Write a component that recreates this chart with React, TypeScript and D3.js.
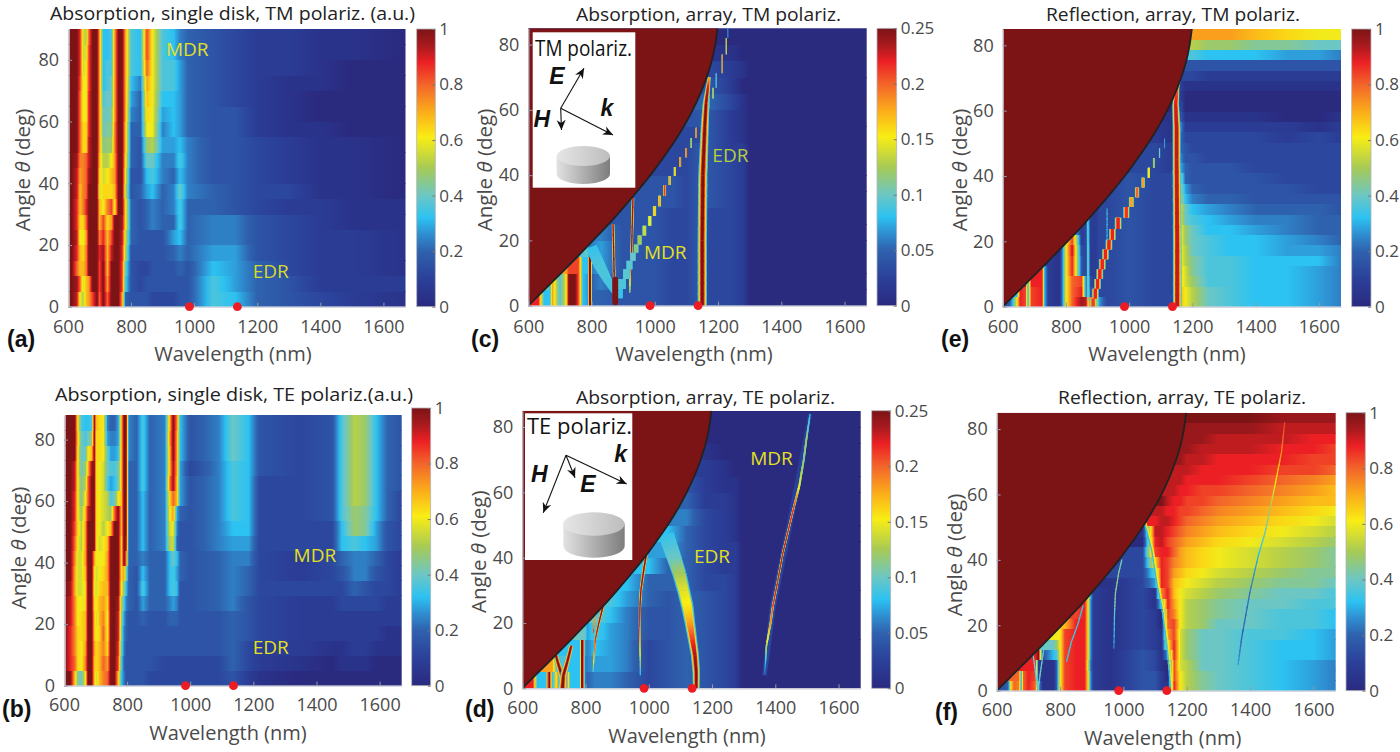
import React, { useEffect, useRef } from 'react';
import * as d3 from 'd3';

// cell values are written one letter per cell, a = 0 ... z = 1 (steps of 0.04),
// rows run from low angle to high angle, spaces are only there to make counting easier
const levelLetters = 'abcdefghijklmnopqrstuvwxyz';

const xTicks = [600, 800, 1000, 1200, 1400, 1600];
const yTicks = [0, 20, 40, 60, 80];
const barTicksFull = ['0', '0.2', '0.4', '0.6', '0.8', '1'];
const barTicksQuarter = ['0', '0.05', '0.1', '0.15', '0.2', '0.25'];
const markerWavelengths = [985, 1137];

// edge of the diffraction cut-off (angle, wavelength)
const cutoffAngles = [0, 5, 10, 15, 20, 25, 30, 35, 40, 45, 50, 55, 60, 65, 70, 75, 80, 85];
const cutoffWavelengths = [600, 652, 704, 755, 805, 854, 900, 944, 986, 1024, 1060, 1092, 1120, 1144, 1164, 1180, 1191, 1198];

const colormapStops = [0, 0.1, 0.2, 0.26, 0.32, 0.4, 0.5, 0.61, 0.7, 0.8, 0.88, 0.94, 1];
const colormapColors = ['#2a2a7f', '#2b409a', '#2f62ae', '#2f8ed0', '#2cc2f1', '#6cc7c4', '#a7ca55', '#f9ed14', '#fbae1a', '#f3642a', '#ec2024', '#a81a1e', '#7c1416'];

// (a) absorption, single disk, TM
const colsA = [600, 612, 628, 638, 648, 658, 666, 678, 692, 700, 712, 725, 738, 748, 760, 772, 782, 800, 830, 850, 868, 900, 935, 955, 980, 1060, 1130, 1200, 1300, 1400, 1500, 1670];
const rowsA = [
  'zzxpn rsvzu zuzzz sfeee dddee jifed cb',
  'zzyuo rszzv zszzz vjede eeeee jhfec cc',
  'zzurr tzzzv zrzzz vkedd eeefe ihfdc cb',
  'zzwrq tzzzw yrxzz wneee eefgf hhedc cb',
  'zzxpp szzzt wrvzz xofee eehif ggedc cb',
  'zzwqq uzzzr vqszz yqfef gffjf ggedc bb',
  'zzwrt wzzzr ptvpz zqfef gfgjf fedcc bb',
  'zzxrt uzzzo qqqrz zoefh ifgkg feddb ba',
  'zzxst uyzzq oprsz zpeei jgfig eedcb ba',
  'zzytt uxzzr nnpsz zqfek kggjg eedcb ba',
  'zzzuq qxzzs lmmtz zrfem nhhig eedcb ba',
  'zzzuq qwzzs klltz zrffp pgihf eecbb aa',
  'zzzup pwzzs kklsz zsgfq phihf eecba aa',
  'zzzup pwzzs jkksz zshfr piihf edcba aa',
  'zzzvp pvzzs ijksz zsigs pjjhf edcbb aa',
  'zzzwo pvzzs ijjsz zsjiu pjjhf edccb aa',
  'zzzwo ovzzs iijsz zsjiv pjigf edccb ba',
  'zzzwo nuzzs iijsz zsjiv pjigf edccb ba',
];

// (b) absorption, single disk, TE
const colsB = [600, 620, 634, 644, 655, 668, 676, 688, 696, 702, 712, 725, 738, 748, 760, 772, 782, 790, 797, 805, 830, 850, 872, 920, 935, 946, 958, 968, 1000, 1090, 1135, 1185, 1220, 1350, 1450, 1480, 1520, 1555, 1590, 1625, 1670];
const rowsB = [
  'zzrlk pzzro rtuzz rigee eeddd ddddd ecbaa aaaaa a',
  'zwuqp tzzrq ruszz vjfee eeedd ddddd fdcba bbbaa a',
  'zwtqp szzsq rtqzz wkgee eeeee eeeee fdccb bccbb b',
  'zwtqq rzzrp qupzz xlgfe eeeee eeeee fedcc ccccb b',
  'zxtpq rzzro rtpzz xmhfe efeef ffeee fedcc ccccc c',
  'zxtpp qzzqp rsqzz ynjgf ehffg hgeef gedcc ddddc c',
  'zysoo qzzpo qrrzz zpmif ejffi jieef gfddd dfedd c',
  'zzsoo rzzqo pqszz zqslf eiffi jhfef gfdcd egged c',
  'zztoo szzsp ppszz zqzuf fgffi kifef ggdcd fggfd c',
  'zzupn szzzq oprzz zqzyf fifgn ofeeg hhddd ijihe d',
  'zzvqn szzzq pnprz zrzzf fifgo pgeeg iiddd imlhe d',
  'zzwpm rxzzq ponmu zrzzf fifgp shfeg jidde jmlif d',
  'zzwpl puzzq ponjk przzf fifgq urheg jidde jnmif d',
  'zzxpl nuzzq pojhi krzzf fjfgt yrheg jidde jnmif e',
  'zzxpk mryzq pokjj krzzf fjfgr yshdg jiede jnmif e',
  'zzzpk kprzq qpkhh irzzg fjfgr zsieg kiede jnmif e',
  'zzzqk jkmzq qphgg hrzzg fjfgs zsieg kiede jnmif e',
  'zzzpj iijzr qpgff hrzzg fjfgr ztieg kiede jnmif e',
];

// (c) absorption, array, TM
const colsC = [600, 632, 640, 650, 668, 676, 684, 700, 720, 728, 735, 748, 758, 766, 772, 788, 792, 797, 802, 830, 900, 1000, 1060, 1100, 1130, 1180, 1240, 1280, 1300, 1670];
const rowsC = [
  'zwpii spjpz zzvpi hzzff eedde ddcaa',
  'zzzpi spjpz zzvpi hzzfg eedde ddcaa',
  'zzzzz zzzsz zzvpi izzgh eedde ddcaa',
  'zzzzz zzzzz zzzzj kzzgh eedde ddcaa',
  'zzzzz zzzzz zzzzz zzzzg eedde ddcaa',
  'zzzzz zzzzz zzzzz zzzzz eedde ddcaa',
  'zzzzz zzzzz zzzzz zzzzz zeede edcaa',
  'zzzzz zzzzz zzzzz zzzzz zeede edcaa',
  'zzzzz zzzzz zzzzz zzzzz zzdde edcaa',
  'zzzzz zzzzz zzzzz zzzzz zzdde eccaa',
  'zzzzz zzzzz zzzzz zzzzz zzzdd ecbaa',
  'zzzzz zzzzz zzzzz zzzzz zzzze ecbaa',
  'zzzzz zzzzz zzzzz zzzzz zzzzz fdbaa',
  'zzzzz zzzzz zzzzz zzzzz zzzzz ecaaa',
  'zzzzz zzzzz zzzzz zzzzz zzzzz dcbaa',
  'zzzzz zzzzz zzzzz zzzzz zzzzz zbaaa',
  'zzzzz zzzzz zzzzz zzzzz zzzzz zaaaa',
];
const edrC = [[0, 1150, 1, 30], [20, 1150, 1, 30], [40, 1152, 1, 30], [55, 1158, 1, 26], [62, 1162, 1, 22], [67, 1168, 0.9, 14], [70, 1172, 0.7, 10]];
const mdrStairC = [[3.8, 884, 0.33, 30], [6.5, 896, 0.36, 26], [9.9, 910, 0.38, 22], [12.5, 920, 0.38, 20], [15, 931, 0.4, 18], [17.5, 941, 0.45, 16], [20, 952, 0.5, 14], [23, 967, 0.55, 13], [26, 984, 0.6, 12], [29, 999, 0.65, 11], [32, 1015, 0.7, 10], [35.4, 1031, 0.85, 10], [38.5, 1047, 0.7, 8], [41, 1063, 0.65, 7], [44, 1080, 0.75, 7], [47, 1099, 0.8, 6], [49.7, 1115, 0.5, 5], [53, 1131, 0.8, 5]];
const upperStairC = [[62, 1171, 0.45, 4], [65, 1184, 0.55, 4], [68.5, 1194, 0.4, 3], [74, 1213, 0.85, 3], [80, 1226, 0.7, 3], [84, 1231, 0.3, 3]];
const leftArmC = [[4, 872, 0.34, 14], [8, 850, 0.36, 28], [13, 822, 0.36, 38], [18, 800, 0.33, 34]];
const coreC = [[1, 875, 1, 18], [8, 875, 1, 18]];
const lineLeftC = [[3, 873, 1, 9], [25, 868, 1, 9]];
const lineRightC = [[4, 921, 0.5, 3], [10, 922, 0.75, 5], [15, 926, 1, 8], [33, 931, 1, 9]];

// (d) absorption, array, TE
const colsD = [600, 634, 640, 648, 675, 680, 686, 695, 712, 722, 735, 745, 752, 782, 787, 792, 798, 805, 830, 880, 930, 1000, 1060, 1120, 1180, 1240, 1275, 1295, 1670];
const rowsD = [
  'zwpii uziso zqiiz zgfgg fdefe dcaa',
  'zzzzz zzsij jiiiz zgghh gdefe dcaa',
  'zzzzz zzzzi iiiiz zhgih gdefe dcaa',
  'zzzzz zzzzz zzzkz zkhjh geefe dcaa',
  'zzzzz zzzzz zzzzz zzzki geefe dcaa',
  'zzzzz zzzzz zzzzz zzzzj hfefe dcaa',
  'zzzzz zzzzz zzzzz zzzzz ifffd dcaa',
  'zzzzz zzzzz zzzzz zzzzz ziffd ccaa',
  'zzzzz zzzzz zzzzz zzzzz zzhfd ccaa',
  'zzzzz zzzzz zzzzz zzzzz zzifd cbaa',
  'zzzzz zzzzz zzzzz zzzzz zzzgd cbaa',
  'zzzzz zzzzz zzzzz zzzzz zzzfc cbaa',
  'zzzzz zzzzz zzzzz zzzzz zzzec bbaa',
  'zzzzz zzzzz zzzzz zzzzz zzzzc baaa',
  'zzzzz zzzzz zzzzz zzzzz zzzzb aaaa',
  'zzzzz zzzzz zzzzz zzzzz zzzzz aaaa',
  'zzzzz zzzzz zzzzz zzzzz zzzzz aaaa',
];
const edrD = [[0, 1150, 1, 22], [5, 1150, 1, 24], [10, 1146, 0.95, 26], [15, 1138, 0.85, 30], [20, 1130, 0.72, 34], [25, 1122, 0.62, 40], [30, 1110, 0.58, 42], [35, 1097, 0.5, 45], [40, 1080, 0.4, 48], [47, 1055, 0.33, 50]];
const mdrHaloD = [[4, 1366, 0.12, 12], [25, 1392, 0.12, 16], [50, 1445, 0.1, 16], [84, 1510, 0.08, 10]];
const mdrD = [[4, 1366, 0.2, 3], [8, 1369, 0.33, 4], [13, 1372, 0.55, 5], [20, 1385, 0.75, 7], [25, 1392, 0.85, 7], [33, 1408, 0.95, 7], [41, 1423, 0.95, 7], [50, 1445, 0.9, 7], [56, 1460, 0.85, 7], [62, 1476, 0.6, 7], [70, 1490, 0.45, 6], [76, 1498, 0.5, 6], [84, 1510, 0.3, 4]];
const line980D = [[4, 973, 0.3, 3], [8, 973, 0.55, 3], [13, 972, 0.7, 4], [20, 971, 0.9, 6], [25, 972, 1, 8], [30, 975, 1, 9], [35, 982, 1, 11], [41, 992, 1, 11]];
const line850D = [[5, 824, 0.35, 3], [9, 826, 0.7, 4], [15, 831, 0.9, 6], [20, 842, 1, 9], [25, 855, 1, 11], [29, 875, 1, 11]];
const line825D = [[17, 825, 0.9, 4], [23, 829, 0.7, 4]];
const vLeftD = [[0, 727, 1, 28], [4, 725, 1, 22], [8, 712, 1, 18], [11, 704, 1, 16]];
const vRightD = [[0, 727, 1, 28], [4, 730, 1, 22], [8, 742, 1, 18], [13, 755, 1, 16]];

// (e) reflection, array, TM
const colsE = [600, 620, 632, 645, 655, 672, 680, 690, 725, 732, 745, 780, 790, 800, 820, 850, 864, 870, 878, 895, 905, 930, 1000, 1080, 1130, 1142, 1165, 1178, 1200, 1250, 1320, 1400, 1500, 1600, 1670];
const rowsE = [
  'zeipw vivwi cbhpu yxquq hdedd crpnk jiihg',
  'zzziw vivwi cbhpu wfmed ddedd crpnk jiihg',
  'zzzzz xiwwi cbhpu vfmdc ddedd cqomj jiihg',
  'zzzzz zzzwi cbhpw edlcc ddedd cqolj jiihg',
  'zzzzz zzzzz cbhpw edlcc ddedd cpnlj jiiig',
  'zzzzz zzzzz zbhpx ddlcc ddedd cpnkj iihhg',
  'zzzzz zzzzz zzipv cdkcc ddedd cpmkj iihgf',
  'zzzzz zzzzz zzzzk cdkcc ddedd cpmki ihgff',
  'zzzzz zzzzz zzzzz bcjcc ddedd cokji hggff',
  'zzzzz zzzzz zzzzz zzzbc ddedd cokih gfffe',
  'zzzzz zzzzz zzzzz zzzzz cdedd cmigf feeee',
  'zzzzz zzzzz zzzzz zzzzz zdedd clhfe eeedd',
  'zzzzz zzzzz zzzzz zzzzz zdedd dkfee eeddd',
  'zzzzz zzzzz zzzzz zzzzz zzddc chfee edddd',
  'zzzzz zzzzz zzzzz zzzzz zzddc bgeed ddddd',
  'zzzzz zzzzz zzzzz zzzzz zzzdc bfedd ddddd',
  'zzzzz zzzzz zzzzz zzzzz zzzcb afddd ddcdc',
  'zzzzz zzzzz zzzzz zzzzz zzzcb agccc cccbc',
  'zzzzz zzzzz zzzzz zzzzz zzzzb aebbb bbaab',
  'zzzzz zzzzz zzzzz zzzzz zzzzz adaaa aaaaa',
  'zzzzz zzzzz zzzzz zzzzz zzzzz zcaaa aaaaa',
  'zzzzz zzzzz zzzzz zzzzz zzzzz zcbbb bbbbb',
  'zzzzz zzzzz zzzzz zzzzz zzzzz zzddc ccccc',
  'zzzzz zzzzz zzzzz zzzzz zzzzz zzeee eeeee',
  'zzzzz zzzzz zzzzz zzzzz zzzzz zzjji iihhg',
  'zzzzz zzzzz zzzzz zzzzz zzzzz zznnm mllkk',
  'zzzzz zzzzz zzzzz zzzzz zzzzz zzsss srqpp',
];
const edrE = [[0, 1152, 0.92, 28], [20, 1152, 0.92, 28], [45, 1150, 0.92, 26], [55, 1150, 0.92, 26], [62, 1147, 0.9, 22], [67, 1152, 0.8, 14], [70, 1160, 0.6, 8]];
const stairE = [[1, 886, 0.85, 22], [4, 893, 0.88, 22], [7, 900, 0.88, 22], [10, 907, 0.88, 22], [13, 915, 0.88, 22], [16, 925, 0.88, 22], [19, 936, 0.88, 22], [22, 947, 0.88, 22], [25.5, 965, 0.88, 22], [29, 991, 0.86, 20], [32, 1007, 0.72, 16], [35, 1025, 0.8, 14], [38, 1044, 0.72, 11], [41, 1062, 0.62, 8], [44, 1078, 0.5, 6], [47, 1096, 0.42, 4], [50, 1112, 0.3, 3]];
const slitE = [[2, 870, 0.38, 4], [26, 868, 0.36, 4]];
const slit930E = [[20, 930, 0.32, 3], [30, 930, 0.35, 3]];

// (f) reflection, array, TE
const colsF = [600, 622, 636, 645, 655, 670, 678, 684, 700, 722, 732, 745, 780, 790, 800, 815, 850, 878, 888, 896, 905, 960, 1060, 1100, 1120, 1140, 1160, 1180, 1200, 1250, 1300, 1400, 1500, 1600, 1670];
const rowsF = [
  'zefqu tiuwu ibbfp vwwqh cbeec bwpnl kjihg',
  'zzzzz uiuwv dbbfp vwwqh cbeec avpnl kjihg',
  'zzzzz zzzww cbbfp vwwpg cbedb avonk kjihg',
  'zzzzz zzzzw zeijp vwwqh cbedb hwomk kjiih',
  'zzzzz zzzzz zkkmp vwwqh cbdcb pwomk kjiih',
  'zzzzz zzzzz zzzzp vwwqh cbdcb svomk kjjih',
  'zzzzz zzzzz zzzzz rwwqh cbdca uvpnm kkjji',
  'zzzzz zzzzz zzzzz zvwqh cbdca vtpnm lkjji',
  'zzzzz zzzzz zzzzz zzwqh cbdbj wspnm lkkjj',
  'zzzzz zzzzz zzzzz zzzsi cbdbt wrpon mlkkj',
  'zzzzz zzzzz zzzzz zzzzz zbdhw vrqpo nmllk',
  'zzzzz zzzzz zzzzz zzzzz zzdkw vsrqp onmll',
  'zzzzz zzzzz zzzzz zzzzz zzdqw vtsrq ponml',
  'zzzzz zzzzz zzzzz zzzzz zzdvw wusrq ponml',
  'zzzzz zzzzz zzzzz zzzzz zzawx vutsr qponm',
  'zzzzz zzzzz zzzzz zzzzz zzbxx wvuts rqpon',
  'zzzzz zzzzz zzzzz zzzzz zzzwx xwvut srqpo',
  'zzzzz zzzzz zzzzz zzzzz zzzzx wwvvu tsrqp',
  'zzzzz zzzzz zzzzz zzzzz zzzzz xwwvv utsrr',
  'zzzzz zzzzz zzzzz zzzzz zzzzz xxwwv vutsr',
  'zzzzz zzzzz zzzzz zzzzz zzzzz zxxww wvuts',
  'zzzzz zzzzz zzzzz zzzzz zzzzz zzxxw wwvvu',
  'zzzzz zzzzz zzzzz zzzzz zzzzz zzyxx wwwvv',
  'zzzzz zzzzz zzzzz zzzzz zzzzz zzyyx xxwwv',
  'zzzzz zzzzz zzzzz zzzzz zzzzz zzzyy xxxww',
  'zzzzz zzzzz zzzzz zzzzz zzzzz zzzyy yyxxx',
  'zzzzz zzzzz zzzzz zzzzz zzzzz zzzzz zzyyy',
];
const edgeCyanF = [[0, 1149, 0.33, 4], [5, 1145, 0.33, 4], [15, 1136, 0.33, 4], [26, 1120, 0.33, 4], [33, 1105, 0.33, 4], [43, 1089, 0.33, 4], [49, 1073, 0.33, 4], [52, 1063, 0.33, 4]];
const edgeYellowF = [[0, 1154, 0.62, 4], [5, 1150, 0.62, 4], [15, 1141, 0.62, 4], [26, 1125, 0.62, 4], [33, 1110, 0.62, 4], [43, 1094, 0.62, 4], [49, 1078, 0.62, 4], [52, 1068, 0.62, 4]];
const mdrF = [[8, 1362, 0.28, 4], [16, 1373, 0.2, 4], [30, 1399, 0.22, 4], [41, 1425, 0.3, 4], [48, 1446, 0.38, 4], [56, 1464, 0.5, 4], [65, 1483, 0.62, 4], [73, 1499, 0.75, 4], [82, 1509, 0.85, 4]];
const slit980F = [[13, 970, 0.28, 3], [24, 972, 0.38, 4], [30, 975, 0.45, 4], [36, 985, 0.45, 4], [40, 995, 0.4, 4]];
const slit850F = [[9, 821, 0.33, 4], [15, 836, 0.35, 4], [20, 855, 0.35, 4], [26, 873, 0.33, 4]];
const vLeftF = [[0, 730, 0.4, 4], [6, 722, 0.4, 4], [13, 712, 0.38, 4]];
const vRightF = [[0, 730, 0.4, 4], [7, 740, 0.4, 4], [15, 752, 0.38, 4]];

const panels = [
  { id: 'a', title: 'Absorption, single disk, TM polariz. (a.u.)', titleX: [50, 415], titleY: 20, x: [68, 405.5], y: [306.7, 29], top: 90, imgFrom: 605, cols: colsA, rows: rowsA, glow: [], stairs: [], dips: [], cutoff: false, barX: [416.7, 435.3], barY: [306.7, 29], barTicks: barTicksFull, xLabel: [233, 361], yLabel: [30, 170], letter: ['(a)', 7, 347], tickY: 333, notes: [['MDR', 978, 83, '#e3e01e'], ['EDR', 1243, 11, '#d5db2a']] },
  { id: 'b', title: 'Absorption, single disk, TE polariz.(a.u.)', titleX: [55, 413], titleY: 401, x: [64, 401.7], y: [685.7, 415], top: 88, imgFrom: 605, cols: colsB, rows: rowsB, glow: [], stairs: [], dips: [], cutoff: false, barX: [411.7, 430.7], barY: [685.7, 408], barTicks: barTicksFull, xLabel: [228, 740], yLabel: [26, 548], letter: ['(b)', 2, 717], tickY: 711.7, notes: [['MDR', 1395, 42, '#e3e01e'], ['EDR', 1255, 12, '#e3e01e']] },
  { id: 'c', title: 'Absorption, array, TM polariz.', titleX: [576, 841], titleY: 21, x: [528.3, 866.7], y: [305.7, 28.3], top: 85, imgFrom: 600, cols: colsC, rows: rowsC, glow: [leftArmC, edrC, lineLeftC, lineRightC], stairs: [mdrStairC, upperStairC], dips: [coreC], cutoff: true, barX: [877, 896.7], barY: [305.7, 28.3], barTicks: barTicksQuarter, xLabel: [694, 361], yLabel: [491.7, 170], letter: ['(c)', 471, 347], tickY: 333, notes: [['MDR', 1033, 16, '#e3e01e'], ['EDR', 1239, 45.6, '#b5cf3a']] },
  { id: 'd', title: 'Absorption, array, TE polariz.', titleX: [576, 835], titleY: 404, x: [522.3, 860.7], y: [688.3, 410.7], top: 85, imgFrom: 600, cols: colsD, rows: rowsD, glow: [edrD, mdrHaloD, mdrD, line980D, line850D, line825D, vLeftD, vRightD], stairs: [], dips: [], cutoff: true, barX: [871.7, 890.7], barY: [688.3, 410.7], barTicks: barTicksQuarter, xLabel: [687, 742.7], yLabel: [486, 551.7], letter: ['(d)', 465, 717], tickY: 714, notes: [['MDR', 1388, 70, '#e3e01e'], ['EDR', 1200, 40, '#e3e01e']] },
  { id: 'e', title: 'Reflection, array, TM polariz.', titleX: [1046, 1300], titleY: 21, x: [1002.7, 1341], y: [306.7, 29], top: 85, imgFrom: 600, cols: colsE, rows: rowsE, glow: [edrE], stairs: [stairE], dips: [slitE, slit930E], cutoff: true, barX: [1351.7, 1371], barY: [306.7, 29], barTicks: barTicksFull, xLabel: [1167, 361], yLabel: [966.7, 170], letter: ['(e)', 941, 347], tickY: 333, notes: [] },
  { id: 'f', title: 'Reflection, array, TE polariz.', titleX: [1058, 1306], titleY: 404, x: [996.7, 1335.7], y: [690.7, 412.7], top: 85, imgFrom: 600, cols: colsF, rows: rowsF, glow: [], stairs: [], dips: [edgeCyanF, edgeYellowF, mdrF, slit980F, slit850F, vLeftF, vRightF], cutoff: true, barX: [1346, 1365.3], barY: [690.7, 412.7], barTicks: barTicksFull, xLabel: [1162.7, 745], yLabel: [961.7, 555], letter: ['(f)', 935, 720], tickY: 716.7, notes: [] },
];

const FONT = '"Open Sans", sans-serif';
const TEXT = '#4a4a4a';

const colormap = d3.scaleLinear<string>().domain(colormapStops).range(colormapColors).clamp(true);
const cutoffAt = d3.scaleLinear().domain(cutoffAngles).range(cutoffWavelengths).clamp(true);
const decodeRow = (row: string) => row.replace(/ /g, '').split('').map(c => levelLetters.indexOf(c) / 25);

function drawArrow(g: any, x1: number, y1: number, x2: number, y2: number) {
  const angle = Math.atan2(y2 - y1, x2 - x1) * 180 / Math.PI;
  g.append('line').attr('x1', x1).attr('y1', y1).attr('x2', x2).attr('y2', y2).attr('stroke', '#111').attr('stroke-width', 1.1);
  g.append('path').attr('d', 'M0,0L-10,-4.5L-7,0L-10,4.5Z').attr('fill', '#111')
    .attr('transform', `translate(${x2},${y2}) rotate(${angle})`);
}

function drawDisk(g: any, cx: number, topY: number, rx: number, ry: number, h: number) {
  g.append('path')
    .attr('d', `M${cx - rx},${topY}V${topY + h}A${rx},${ry} 0 0 0 ${cx + rx},${topY + h}V${topY}Z`)
    .attr('fill', 'url(#diskSide)');
  g.append('ellipse').attr('cx', cx).attr('cy', topY).attr('rx', rx).attr('ry', ry).attr('fill', 'url(#diskTop)');
}

function drawInset(g: any, id: string) {
  const label = (t: string, x: number, y: number) => g.append('text').attr('x', x).attr('y', y)
    .attr('text-anchor', 'middle').attr('dominant-baseline', 'middle')
    .style('font-family', '"Liberation Sans", sans-serif').style('font-size', '23px')
    .style('font-weight', 'bold').style('font-style', 'italic').style('fill', '#111').text(t);
  const heading = (t: string, x: number, y: number, w: number) => g.append('text').attr('x', x).attr('y', y)
    .attr('textLength', w).attr('lengthAdjust', 'spacingAndGlyphs')
    .style('font-family', FONT).style('font-size', '22px').style('fill', '#111').text(t);
  if (id === 'c') {
    g.append('rect').attr('x', 532.7).attr('y', 32.3).attr('width', 102.6).attr('height', 155.4).attr('fill', '#fff');
    heading('TM polariz.', 535, 56, 97);
    drawArrow(g, 560.7, 108.3, 584, 68.3);
    drawArrow(g, 560.7, 108.3, 561.5, 130);
    drawArrow(g, 560.7, 108.3, 613, 135);
    label('E', 557, 78); label('H', 541.7, 121); label('k', 607, 110);
    drawDisk(g, 583.3, 156, 26.7, 10, 18);
  } else {
    g.append('rect').attr('x', 525).attr('y', 413.3).attr('width', 107.3).attr('height', 146.7).attr('fill', '#fff');
    heading('TE polariz.', 527, 434, 105);
    drawArrow(g, 566, 455.3, 626.7, 484);
    drawArrow(g, 566, 455.3, 543.3, 512.7);
    drawArrow(g, 566, 455.3, 575, 477.7);
    label('k', 620.7, 456); label('H', 539.3, 476); label('E', 588, 486);
    drawDisk(g, 594, 524, 30.7, 11.7, 22);
  }
}

export default function App() {
  const svgRef = useRef<SVGSVGElement>(null);

  useEffect(() => {
    if (!svgRef.current) return;
    const svg = d3.select(svgRef.current);
    svg.selectAll('*').remove();
    const defs = svg.append('defs');

    const diskTop = defs.append('linearGradient').attr('id', 'diskTop').attr('x1', 0).attr('x2', 1);
    diskTop.append('stop').attr('offset', 0).attr('stop-color', '#e6e6e6');
    diskTop.append('stop').attr('offset', 1).attr('stop-color', '#bdbdbd');
    const diskSide = defs.append('linearGradient').attr('id', 'diskSide').attr('x1', 0).attr('x2', 1);
    diskSide.append('stop').attr('offset', 0).attr('stop-color', '#e2e2e2');
    diskSide.append('stop').attr('offset', 1).attr('stop-color', '#7d7d7d');

    const barGrad = defs.append('linearGradient').attr('id', 'barGrad').attr('x1', 0).attr('x2', 0).attr('y1', 1).attr('y2', 0);
    colormapStops.forEach((s, i) => barGrad.append('stop').attr('offset', s).attr('stop-color', colormapColors[i]));

    panels.forEach(p => {
      const x = d3.scaleLinear().domain([600, 1670]).range(p.x);
      const y = d3.scaleLinear().domain([0, p.top]).range(p.y);
      const g = svg.append('g');

      defs.append('clipPath').attr('id', `clip-${p.id}`).append('rect')
        .attr('x', x(p.imgFrom)).attr('y', y(p.top))
        .attr('width', x(1670) - x(p.imgFrom)).attr('height', y(0) - y(p.top));
      const plot = g.append('g').attr('clip-path', `url(#clip-${p.id})`);

      // heat map rows, values are shaded across each row through the colormap
      const rowStep = p.top / p.rows.length;
      const first = x(p.cols[0]);
      const span = x(p.cols[p.cols.length - 1]) - first;
      p.rows.forEach((row, r) => {
        const vals = decodeRow(row);
        // cells hidden behind the cut-off take the first visible value so nothing bleeds past the edge
        if (p.cutoff) {
          const edge = cutoffAt((r + 1) * rowStep);
          for (let i = p.cols.length - 2; i >= 0; i--) {
            if (p.cols[i] < edge && vals[i] === 1) vals[i] = vals[i + 1];
          }
        }
        const grad = defs.append('linearGradient').attr('id', `row-${p.id}-${r}`)
          .attr('gradientUnits', 'userSpaceOnUse')
          .attr('x1', first).attr('x2', first + span).attr('y1', 0).attr('y2', 0);
        p.cols.forEach((c, i) => {
          const v = vals[i] ?? vals[vals.length - 1];
          const next = i + 1 < p.cols.length ? (vals[i + 1] ?? v) : v;
          const steps = i + 1 < p.cols.length ? Math.max(1, Math.ceil(Math.abs(next - v) / 0.05)) : 1;
          for (let k = 0; k < steps; k++) {
            const t = k / steps;
            const nm = i + 1 < p.cols.length ? c + (p.cols[i + 1] - c) * t : c;
            grad.append('stop').attr('offset', (x(nm) - first) / span).attr('stop-color', colormap(v + (next - v) * t));
          }
        });
        plot.append('rect')
          .attr('x', first).attr('width', span)
          .attr('y', y((r + 1) * rowStep)).attr('height', y(r * rowStep) - y((r + 1) * rowStep) + 0.5)
          .attr('shape-rendering', 'crispEdges')
          .attr('fill', `url(#row-${p.id}-${r})`);
      });

      // narrow resonances on top of the coarse grid, [angle, wavelength, peak, full width in nm]
      const pxPerNm = Math.abs(x(1) - x(0));
      const segments = (pts: number[][], stepped: boolean) => {
        if (!stepped) {
          // shade along each stretch in short pieces so colour and width change gradually
          const out: any[] = [];
          pts.slice(1).forEach((q, i) => {
            const a = pts[i];
            const pieces = 6;
            d3.range(pieces).forEach(k => {
              const t0 = k / pieces;
              const t1 = Math.min(1, (k + 1.15) / pieces);
              const tm = (k + 0.5) / pieces;
              out.push({
                x1: x(a[1] + (q[1] - a[1]) * t0), y1: y(a[0] + (q[0] - a[0]) * t0),
                x2: x(a[1] + (q[1] - a[1]) * t1), y2: y(a[0] + (q[0] - a[0]) * t1),
                peak: a[2] + (q[2] - a[2]) * tm, fwhm: a[3] + (q[3] - a[3]) * tm,
              });
            });
          });
          return out;
        }
        return pts.map((q, i) => {
          const lo = i > 0 ? (pts[i - 1][0] + q[0]) / 2 : q[0] - 1.5;
          const hi = i < pts.length - 1 ? (pts[i + 1][0] + q[0]) / 2 : q[0] + 1.5;
          return { x1: x(q[1]), y1: y(lo), x2: x(q[1]), y2: y(hi), peak: q[2], fwhm: q[3] };
        });
      };
      const bandLevels = [0.32, 0.45, 0.6, 0.72, 0.85];
      const drawGlow = (segs: any[]) => {
        [...bandLevels, 2].forEach((level, li) => {
          segs.forEach(s => {
            const prev = li === 0 ? -1 : bandLevels[li - 1];
            if (s.peak <= prev) return;
            const l = Math.min(level, s.peak);
            plot.append('line')
              .attr('x1', s.x1).attr('y1', s.y1).attr('x2', s.x2).attr('y2', s.y2)
              .attr('stroke', colormap(l))
              .attr('stroke-width', s.fwhm * pxPerNm * Math.max(0.3, 1.3 - l));
          });
        });
      };
      p.glow.forEach(pts => drawGlow(segments(pts, false)));
      p.stairs.forEach(pts => drawGlow(segments(pts, true)));
      p.dips.forEach(pts => {
        segments(pts, false).forEach(s => {
          plot.append('line')
            .attr('x1', s.x1).attr('y1', s.y1).attr('x2', s.x2).attr('y2', s.y2)
            .attr('stroke', colormap(s.peak)).attr('stroke-width', s.fwhm * pxPerNm)
            .attr('stroke-linecap', 'round');
        });
      });

      // forbidden region above the cut-off
      if (p.cutoff) {
        const edge = cutoffAngles.map((a, i) => [a, cutoffWavelengths[i]]);
        const area = d3.area<number[]>().x0(x(600)).x1(d => x(d[1])).y(d => y(d[0])).curve(d3.curveMonotoneY);
        const line = d3.line<number[]>().x(d => x(d[1])).y(d => y(d[0])).curve(d3.curveMonotoneY);
        plot.append('path').attr('d', area(edge)).attr('fill', '#7c1416');
        plot.append('path').attr('d', line(edge)).attr('fill', 'none').attr('stroke', '#222').attr('stroke-width', 1.8);
      }

      // axes
      const xAxis = d3.axisBottom(x).tickValues(xTicks).tickFormat(d3.format('d')).tickSizeInner(-4).tickSizeOuter(0).tickPadding(14);
      const yAxis = d3.axisLeft(y).tickValues(yTicks).tickFormat(d3.format('d')).tickSizeInner(-4).tickSizeOuter(0).tickPadding(9);
      const xg = g.append('g').attr('transform', `translate(0,${y(0)})`).call(xAxis as any);
      const yg = g.append('g').attr('transform', `translate(${x(600)},0)`).call(yAxis as any);
      [xg, yg].forEach(a => {
        a.selectAll('path').attr('stroke', '#c9ccd6').attr('stroke-width', 1.2);
        a.selectAll('line').attr('stroke', '#9a9aa6');
        a.selectAll('text').style('font-family', FONT).style('font-size', '18px').style('fill', TEXT);
      });
      xg.selectAll('text').attr('y', p.tickY - y(0) - 13).attr('dy', '0.71em');

      // markers on the axis
      g.selectAll(null).data(markerWavelengths).enter().append('circle')
        .attr('cx', d => x(d)).attr('cy', y(0)).attr('r', 4.4).attr('fill', '#ed1c24');

      // annotations
      p.notes.forEach(n => {
        g.append('text').attr('x', x(n[1] as number)).attr('y', y(n[2] as number))
          .attr('text-anchor', 'middle').attr('dominant-baseline', 'middle')
          .style('font-family', FONT).style('font-size', '19px').style('fill', n[3] as string).text(n[0] as string);
      });

      if (p.id === 'c' || p.id === 'd') drawInset(g, p.id);

      // titles
      g.append('text').attr('x', p.titleX[0]).attr('y', p.titleY)
        .attr('textLength', p.titleX[1] - p.titleX[0]).attr('lengthAdjust', 'spacingAndGlyphs')
        .style('font-family', FONT).style('font-size', '18.5px').style('fill', '#222').text(p.title);
      g.append('text').attr('x', p.xLabel[0]).attr('y', p.xLabel[1]).attr('text-anchor', 'middle')
        .style('font-family', FONT).style('font-size', '20px').style('fill', TEXT).text('Wavelength (nm)');
      const yt = g.append('text').attr('transform', `translate(${p.yLabel[0]},${p.yLabel[1]}) rotate(-90)`).attr('text-anchor', 'middle')
        .style('font-family', FONT).style('font-size', '20.5px').style('fill', TEXT);
      yt.append('tspan').text('Angle ');
      yt.append('tspan').style('font-style', 'italic').text('θ');
      yt.append('tspan').text(' (deg)');
      g.append('text').attr('x', p.letter[1] as number).attr('y', p.letter[2] as number)
        .style('font-family', '"Liberation Sans", sans-serif').style('font-size', '23px').style('font-weight', 'bold')
        .style('fill', '#111').text(p.letter[0] as string);

      // colorbar
      g.append('rect').attr('x', p.barX[0]).attr('y', p.barY[1])
        .attr('width', p.barX[1] - p.barX[0]).attr('height', p.barY[0] - p.barY[1])
        .attr('fill', 'url(#barGrad)').attr('stroke', '#b5b5bd').attr('stroke-width', 0.8);
      const barMax = +p.barTicks[p.barTicks.length - 1];
      const barScale = d3.scaleLinear().domain([0, barMax]).range(p.barY);
      const barAxis = d3.axisRight(barScale)
        .tickValues(p.barTicks.map(Number)).tickFormat((d, i) => p.barTicks[i])
        .tickSizeInner(-3).tickSizeOuter(0).tickPadding(4);
      const bg = g.append('g').attr('transform', `translate(${p.barX[1]},0)`).call(barAxis as any);
      bg.select('path').remove();
      bg.selectAll('line').attr('stroke', '#777');
      bg.selectAll('text').style('font-family', FONT).style('font-size', '17px').style('fill', TEXT);
    });
  }, []);

  return (
    <svg
      ref={svgRef}
      width={1400}
      height={752}
      style={{ position: 'absolute', left: 0, top: 0, background: '#fff' }}
    />
  );
}
